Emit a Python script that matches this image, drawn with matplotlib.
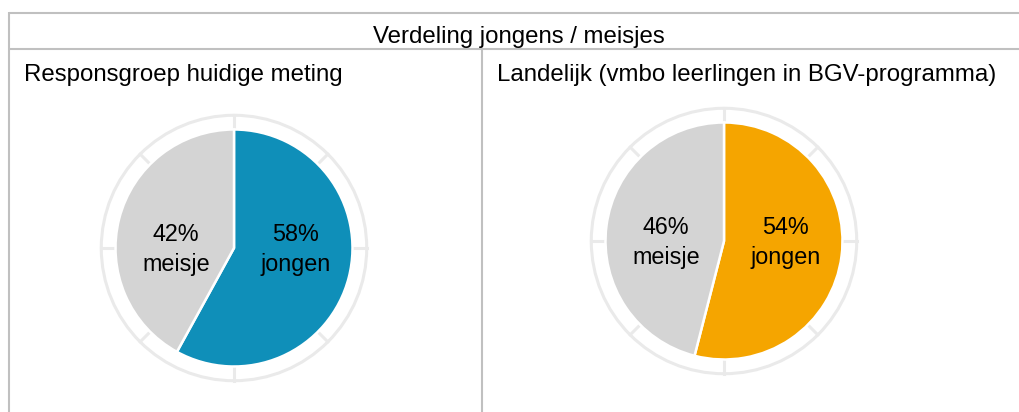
import matplotlib
matplotlib.use("Agg")
import matplotlib.pyplot as plt
from matplotlib.patches import Circle
import numpy as np

plt.rcParams['font.family'] = ['Liberation Sans', 'DejaVu Sans']

# ---- data ----
table_title = "Verdeling jongens / meisjes"
panel_titles = ["Responsgroep huidige meting", "Landelijk (vmbo leerlingen in BGV-programma)"]
categories = ["jongen", "meisje"]
respons_values = [58, 42]
landelijk_values = [54, 46]
series = [respons_values, landelijk_values]
main_colors = ["#0F8FB9", "#F5A500"]
gray = "#D4D4D4"

W, H = 1019, 412
fig = plt.figure(figsize=(W / 100, H / 100), dpi=100)

# full-figure overlay axes in pixel coords (y down)
bg = fig.add_axes([0, 0, 1, 1])
bg.set_xlim(0, W)
bg.set_ylim(H, 0)
bg.axis('off')
lc = "#C0C0C0"
lw = 1.5
bg.plot([9, W], [13, 13], color=lc, lw=lw, solid_capstyle='butt')
bg.plot([9, W], [49, 49], color=lc, lw=lw, solid_capstyle='butt')
bg.plot([9, 9], [12, H], color=lc, lw=lw, solid_capstyle='butt')
bg.plot([482, 482], [49, H], color=lc, lw=lw, solid_capstyle='butt')
fs = 17.3
bg.text(519, 43.3, table_title, ha='center', va='baseline', fontsize=fs)
bg.text(24, 80.7, panel_titles[0], ha='left', va='baseline', fontsize=fs)
bg.text(497, 80.7, panel_titles[1], ha='left', va='baseline', fontsize=fs)

# pie geometry (pixels)
centers = [(234, 248), (724, 241)]
R = 118.5
S = 145
ring_r = 1.12

for (cx, cy), vals, col in zip(centers, series, main_colors):
    ax = fig.add_axes([(cx - S) / W, (H - cy - S) / H, 2 * S / W, 2 * S / H])
    ax.pie(vals, startangle=90, counterclock=False, colors=[col, gray],
           wedgeprops=dict(edgecolor='white', linewidth=1.8))
    lim = S / R
    ax.set_xlim(-lim, lim)
    ax.set_ylim(-lim, lim)
    ax.set_aspect('equal')
    ax.axis('off')
    ax.add_patch(Circle((0, 0), ring_r, fill=False, edgecolor="#EAEAEA", lw=2.2, zorder=0))
    for a in np.deg2rad(np.arange(0, 360, 45)):
        ax.plot([1.0 * np.cos(a), ring_r * np.cos(a)], [1.0 * np.sin(a), ring_r * np.sin(a)],
                color="#EAEAEA", lw=2.2, zorder=0)
    # labels (two lines, baseline-aligned)
    for xpos, v, name in [(0.52, vals[0], categories[0]), (-0.49, vals[1], categories[1])]:
        ax.text(xpos, 0.06, f"{v}%", ha='center', va='baseline', fontsize=16.8)
        ax.text(xpos, -0.195, name, ha='center', va='baseline', fontsize=16.8)

fig.savefig("out.png", dpi=100)
